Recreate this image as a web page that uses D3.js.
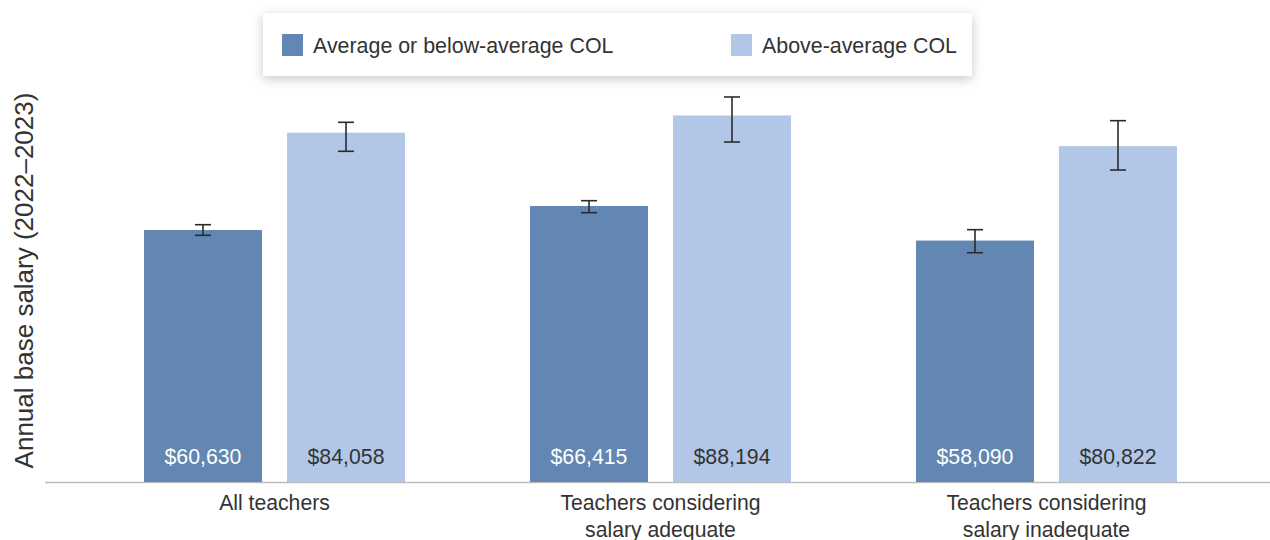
<!DOCTYPE html>
<html>
<head>
<meta charset="utf-8">
<script src="https://cdn.jsdelivr.net/npm/d3@7"></script>
<style>
  html, body { margin: 0; padding: 0; background: #fff; }
  svg { display: block; font-family: "Liberation Sans", Arial, Helvetica, sans-serif; }
</style>
</head>
<body>
<svg id="chart" width="1270" height="540"></svg>
<script>
// ---- data ----
const categories = [["All teachers"], ["Teachers considering", "salary adequate"], ["Teachers considering", "salary inadequate"]];
const categoryKeys = ["all", "adequate", "inadequate"];
const seriesNames = ["Average or below-average COL", "Above-average COL"];
const belowAvgValues = [60630, 66415, 58090];
const aboveAvgValues = [84058, 88194, 80822];
const belowAvgLow  = [59360, 64800, 55170];
const belowAvgHigh = [61910, 67690, 60710];
const aboveAvgLow  = [79570, 81810, 75070];
const aboveAvgHigh = [86550, 92640, 86940];
const valueLabels = [["$60,630", "$66,415", "$58,090"], ["$84,058", "$88,194", "$80,822"]];
const yAxisTitle = "Annual base salary (2022\u20132023)";

const colors = ["#6187b2", "#b2c7e7"];
const labelColors = ["#ffffff", "#333333"];
const textColor = "#333333";

const svg = d3.select("#chart");

// drop shadow for legend
const defs = svg.append("defs");
const f = defs.append("filter").attr("id", "shadow").attr("x", "-10%").attr("y", "-60%").attr("width", "120%").attr("height", "220%");
f.append("feDropShadow").attr("dx", 0).attr("dy", 3).attr("stdDeviation", 6)
  .attr("flood-color", "#000").attr("flood-opacity", 0.22);

// scales
const baseline = 482;
const y = d3.scaleLinear().domain([0, 100000]).range([baseline, baseline - 415.6]);
const x0 = d3.scaleBand().domain(categoryKeys).range([81.5, 1239.5]).padding(0);
const x1 = d3.scaleBand().domain([0, 1]).range([0, x0.bandwidth()]).paddingInner(0.175).paddingOuter(0.437);

const rows = categoryKeys.map((k, i) => ({
  key: k,
  bars: [
    { s: 0, v: belowAvgValues[i], lo: belowAvgLow[i], hi: belowAvgHigh[i], label: valueLabels[0][i] },
    { s: 1, v: aboveAvgValues[i], lo: aboveAvgLow[i], hi: aboveAvgHigh[i], label: valueLabels[1][i] }
  ]
}));

// axis line (baseline)
const xAxis = d3.axisBottom(x0).tickSize(0).tickFormat("");
const gx = svg.append("g").attr("transform", `translate(0,${baseline})`).call(xAxis);
gx.select(".domain").remove();
svg.append("line").attr("x1", 45).attr("x2", 1270).attr("y1", baseline + 0.5).attr("y2", baseline + 0.5)
  .attr("stroke", "#bdbdbd").attr("stroke-width", 1.5);

// bars
const groups = svg.selectAll("g.grp").data(rows).join("g").attr("class", "grp")
  .attr("transform", d => `translate(${x0(d.key)},0)`);

groups.selectAll("rect").data(d => d.bars).join("rect")
  .attr("x", d => x1(d.s)).attr("width", x1.bandwidth())
  .attr("y", d => y(d.v)).attr("height", d => y(0) - y(d.v))
  .attr("fill", d => colors[d.s]);

// value labels
groups.selectAll("text.val").data(d => d.bars).join("text").attr("class", "val")
  .attr("x", d => x1(d.s) + x1.bandwidth() / 2).attr("y", 464)
  .attr("text-anchor", "middle").attr("font-size", 21.3)
  .attr("fill", d => labelColors[d.s]).text(d => d.label);

// error bars
const cap = 8;
const eb = groups.selectAll("g.err").data(d => d.bars).join("g").attr("class", "err")
  .attr("stroke", "#2b2b2b").attr("stroke-width", 1.6);
eb.append("line").attr("x1", d => x1(d.s) + x1.bandwidth() / 2).attr("x2", d => x1(d.s) + x1.bandwidth() / 2)
  .attr("y1", d => y(d.hi)).attr("y2", d => y(d.lo));
eb.append("line").attr("x1", d => x1(d.s) + x1.bandwidth() / 2 - cap).attr("x2", d => x1(d.s) + x1.bandwidth() / 2 + cap)
  .attr("y1", d => y(d.hi)).attr("y2", d => y(d.hi));
eb.append("line").attr("x1", d => x1(d.s) + x1.bandwidth() / 2 - cap).attr("x2", d => x1(d.s) + x1.bandwidth() / 2 + cap)
  .attr("y1", d => y(d.lo)).attr("y2", d => y(d.lo));

// category labels
const catText = svg.selectAll("text.cat").data(categoryKeys).join("text").attr("class", "cat")
  .attr("x", d => x0(d) + x0.bandwidth() / 2).attr("y", 510)
  .attr("text-anchor", "middle").attr("font-size", 21.2).attr("fill", textColor);
catText.each(function(d, i) {
  const t = d3.select(this);
  categories[i].forEach((line, j) => {
    t.append("tspan").attr("x", x0(d) + x0.bandwidth() / 2).attr("dy", j === 0 ? 0 : 27).text(line);
  });
});

// y axis title
svg.append("text").attr("transform", "translate(33,280.5) rotate(-90)")
  .attr("text-anchor", "middle").attr("font-size", 26).attr("fill", textColor).text(yAxisTitle);

// legend
const lg = svg.append("g");
lg.append("rect").attr("x", 263).attr("y", 13).attr("width", 709).attr("height", 63)
  .attr("fill", "#fff").attr("filter", "url(#shadow)");
const legendX = [282, 731];
seriesNames.forEach((name, i) => {
  lg.append("rect").attr("x", legendX[i]).attr("y", 34).attr("width", 21).attr("height", 22).attr("fill", colors[i]);
  lg.append("text").attr("x", legendX[i] + 31).attr("y", 53).attr("font-size", 21.4).attr("fill", textColor).text(name);
});
</script>
</body>
</html>
